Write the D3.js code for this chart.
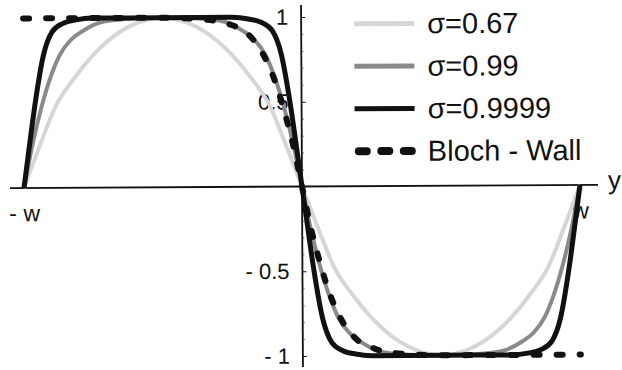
<!DOCTYPE html>
<html>
<head>
<meta charset="utf-8">
<script src="https://cdn.jsdelivr.net/npm/d3@7"></script>
<style>
  body { margin: 0; background: #fff; }
  svg { display: block; font-family: "Liberation Sans", Arial, sans-serif; }
</style>
</head>
<body>
<div id="chart"></div>
<script>
const WIDTH = 622;
const HEIGHT = 370;

// posicion en unidades de w, valor de la curva
const sigma067 = [
    [-1, 0], [-0.942, 0.25], [-0.885, 0.48], [-0.82, 0.64], [-0.75, 0.78], [-0.65, 0.92], [-0.59, 0.97],
    [-0.5, 1], [-0.41, 0.97], [-0.35, 0.92], [-0.25, 0.78], [-0.18, 0.64], [-0.115, 0.48], [-0.058, 0.25],
    [0, 0], [0.058, -0.25], [0.115, -0.48], [0.18, -0.64], [0.25, -0.78], [0.35, -0.92], [0.41, -0.97],
    [0.5, -1], [0.59, -0.97], [0.65, -0.92], [0.75, -0.78], [0.82, -0.64], [0.885, -0.48], [0.942, -0.25], [1, 0]
];

const sigma099 = [
    [-1, 0], [-0.968, 0.26], [-0.935, 0.48], [-0.903, 0.65], [-0.87, 0.78], [-0.83, 0.87], [-0.79, 0.92],
    [-0.71, 0.98], [-0.6, 0.997], [-0.5, 1], [-0.4, 0.997], [-0.29, 0.98], [-0.21, 0.92], [-0.17, 0.87],
    [-0.13, 0.78], [-0.097, 0.65], [-0.065, 0.48], [-0.032, 0.26],
    [0, 0], [0.032, -0.26], [0.065, -0.48], [0.097, -0.65], [0.13, -0.78], [0.17, -0.87], [0.21, -0.92],
    [0.29, -0.98], [0.4, -0.997], [0.5, -1], [0.6, -0.997], [0.71, -0.98], [0.79, -0.92], [0.83, -0.87],
    [0.87, -0.78], [0.903, -0.65], [0.935, -0.48], [0.968, -0.26], [1, 0]
];

const sigma09999 = [
    [-1, 0], [-0.982, 0.22], [-0.96, 0.48], [-0.928, 0.78], [-0.896, 0.92], [-0.856, 0.97], [-0.81, 0.99],
    [-0.75, 1], [-0.5, 1], [-0.25, 1], [-0.19, 0.99], [-0.144, 0.97], [-0.104, 0.92], [-0.072, 0.78],
    [-0.04, 0.48], [-0.018, 0.22],
    [0, 0], [0.018, -0.22], [0.04, -0.48], [0.072, -0.78], [0.104, -0.92], [0.144, -0.97], [0.19, -0.99],
    [0.25, -1], [0.5, -1], [0.75, -1], [0.81, -0.99], [0.856, -0.97], [0.896, -0.92], [0.928, -0.78],
    [0.96, -0.48], [0.982, -0.22], [1, 0]
];

const blochWall = [
    [-1, 1], [-0.75, 1], [-0.5, 1], [-0.36, 0.99], [-0.26, 0.96], [-0.198, 0.91], [-0.137, 0.78],
    [-0.097, 0.63], [-0.065, 0.46], [-0.032, 0.25],
    [0, 0], [0.032, -0.25], [0.065, -0.46], [0.097, -0.63], [0.137, -0.78], [0.198, -0.91],
    [0.26, -0.96], [0.36, -0.99], [0.5, -1], [0.75, -1], [1, -1]
];

const yTicks = [-1, -0.5, 0.5, 1];
const yTickLabels = ["- 1", "- 0.5", "0.5", "1"];
const yMinorTicks = [-0.9, -0.8, -0.7, -0.6, -0.4, -0.3, -0.2, -0.1, 0.1, 0.2, 0.3, 0.4, 0.6, 0.7, 0.8, 0.9];
const xTicks = [-1, 1];
const xTickLabels = ["- w", "w"];

const legendLabels = ["σ=0.67", "σ=0.99", "σ=0.9999", "Bloch - Wall"];

const series = [
    { data: sigma067, color: "#d6d6d6", width: 4, dash: null },
    { data: sigma099, color: "#8a8a8a", width: 4, dash: null },
    { data: sigma09999, color: "#111", width: 5, dash: null },
    { data: blochWall, color: "#111", width: 6, dash: "6,17" }
];

const svg = d3.select("#chart")
    .append("svg")
    .attr("width", WIDTH)
    .attr("height", HEIGHT);

svg.append("rect")
    .attr("width", WIDTH)
    .attr("height", HEIGHT)
    .attr("fill", "#fff");

const x = d3.scaleLinear().domain([-1, 1]).range([24, 580]);
const y = d3.scaleLinear().domain([-1, 1]).range([356, 17]);

// el escaneo original esta un poco girado
const g = svg.append("g")
    .attr("transform", "rotate(-0.3," + x(0) + "," + y(0) + ")");

// ejes
g.append("line")
    .attr("x1", 10).attr("x2", 598)
    .attr("y1", y(0)).attr("y2", y(0))
    .attr("stroke", "#111").attr("stroke-width", 1.8);

g.append("line")
    .attr("x1", x(0)).attr("x2", x(0))
    .attr("y1", 5).attr("y2", 367)
    .attr("stroke", "#111").attr("stroke-width", 1.8);

const yAxis = g.append("g")
    .attr("transform", "translate(" + x(0) + ",0)")
    .call(d3.axisLeft(y)
        .tickValues(yTicks)
        .tickFormat(function(d, i) { return yTickLabels[i]; })
        .tickSizeInner(-4)
        .tickSizeOuter(0)
        .tickPadding(13));
yAxis.select(".domain").remove();
yAxis.selectAll("text").attr("font-size", 22).attr("fill", "#111").attr("font-family", null);
yAxis.selectAll("line").attr("stroke", "#111");

const yMinor = g.append("g")
    .attr("transform", "translate(" + x(0) + ",0)")
    .call(d3.axisLeft(y)
        .tickValues(yMinorTicks)
        .tickFormat("")
        .tickSizeInner(-2)
        .tickSizeOuter(0));
yMinor.select(".domain").remove();
yMinor.selectAll("line").attr("stroke", "#555");

const xAxis = g.append("g")
    .attr("transform", "translate(0," + y(0) + ")")
    .call(d3.axisBottom(x)
        .tickValues(xTicks)
        .tickFormat(function(d, i) { return xTickLabels[i]; })
        .tickSize(0)
        .tickPadding(17));
xAxis.select(".domain").remove();
xAxis.selectAll("text").attr("font-size", 23).attr("fill", "#111").attr("font-family", null);

g.append("text")
    .attr("x", 608)
    .attr("y", y(0) + 4)
    .attr("font-size", 26)
    .attr("fill", "#111")
    .text("y");

// curvas
const line = d3.line()
    .x(function(d) { return x(d[0]); })
    .y(function(d) { return y(d[1]); })
    .curve(d3.curveMonotoneX);

g.selectAll(".curva")
    .data(series)
    .enter().append("path")
    .attr("class", "curva")
    .attr("d", function(d) { return line(d.data); })
    .attr("fill", "none")
    .attr("stroke", function(d) { return d.color; })
    .attr("stroke-width", function(d) { return d.width; })
    .attr("stroke-dasharray", function(d) { return d.dash; })
    .attr("stroke-linecap", function(d) { return d.dash ? "round" : "butt"; })
    .attr("stroke-linejoin", "round");

// leyenda
const legend = g.selectAll(".leyenda")
    .data(series)
    .enter().append("g")
    .attr("class", "leyenda")
    .attr("transform", function(d, i) { return "translate(355," + (24 + i * 42.5) + ")"; });

legend.append("line")
    .attr("x1", function(d) { return d.dash ? 4 : 0; })
    .attr("x2", function(d) { return d.dash ? 58 : 60; })
    .attr("stroke", function(d) { return d.color; })
    .attr("stroke-width", function(d) { return d.dash ? 8 : 5; })
    .attr("stroke-dasharray", function(d) { return d.dash ? "8,14.5" : null; })
    .attr("stroke-linecap", function(d) { return d.dash ? "round" : "butt"; });

legend.append("text")
    .attr("x", 73)
    .attr("y", 10)
    .attr("font-size", 29)
    .attr("fill", "#111")
    .text(function(d, i) { return legendLabels[i]; });
</script>
</body>
</html>
